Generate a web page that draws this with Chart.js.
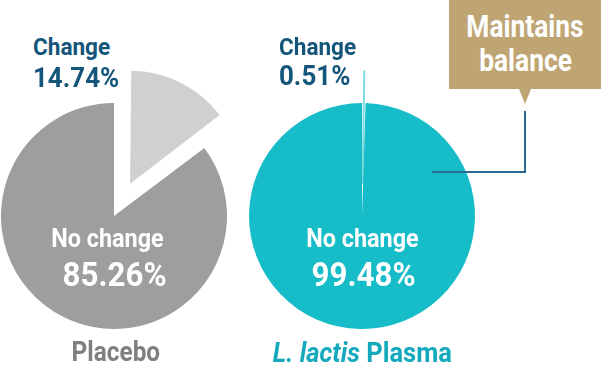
<!DOCTYPE html>
<html>
<head>
<meta charset="utf-8">
<script src="https://cdn.jsdelivr.net/npm/chart.js@4"></script>
<style>
  html, body { margin: 0; padding: 0; background: #fff; }
  #wrap { position: relative; width: 601px; height: 373px; overflow: hidden; font-family: Roboto, "Noto Sans", sans-serif; font-weight: 700; }
  canvas { position: absolute; }
  .lbl { position: absolute; white-space: nowrap; line-height: 1; transform-origin: 0 0; }
  .mid { transform-origin: 50% 0; }
  .callout { position: absolute; left: 449px; top: 0; width: 152px; height: 89px; background: #bfa574; }
  .callout:after { content: ""; position: absolute; left: 70px; top: 89px; border-left: 6px solid transparent; border-right: 6px solid transparent; border-top: 15px solid #bfa574; }
  .lead { position: absolute; background: #2c6b93; }
</style>
</head>
<body>
<div id="wrap">
  <canvas id="pieA" width="300" height="300" style="left:-36px;top:66px"></canvas>
  <canvas id="pieB" width="300" height="300" style="left:212px;top:66px"></canvas>
  <div class="callout"></div>
  <div class="lead" style="left:524px;top:111px;width:2px;height:62px"></div>
  <div class="lead" style="left:432px;top:171px;width:94px;height:2px"></div>
</div>
<script>
// two pies: "change" vs "no change" share per group
const groups = ["Placebo", "L. lactis Plasma"];
const sliceNames = ["Change", "No change"];
const changeValues = [14.74, 0.51];
const noChangeValues = [85.26, 99.48];
const calloutText = ["Maintains", "balance"];

const pieColors = [
  ["#d0d0d0", "#9e9e9e"],
  ["#7dd8e0", "#16bcc8"]
];
const groupColors = ["#7f7f7f", "#15a9bd"];
const navy = "#14557a";
const R = 113;

// chart.js moves an offset arc by offset/4 and also grows its radius;
// pull the radius back so the pulled-out slice keeps the pie's size
const keepRadius = {
  id: "keepRadius",
  beforeDatasetsDraw(chart) {
    chart.getDatasetMeta(0).data.forEach(arc => {
      const off = (arc.options.offset || 0) / 4;
      const fix = 1 - Math.sin(Math.min(Math.PI, arc.circumference || 0));
      arc.outerRadius = R - off * fix;
    });
  }
};

function makePie(id, i, shift, edge) {
  new Chart(document.getElementById(id), {
    type: "pie",
    data: {
      labels: sliceNames,
      datasets: [{
        data: [changeValues[i], noChangeValues[i]],
        backgroundColor: pieColors[i],
        borderColor: pieColors[i],
        borderWidth: [edge, 0],
        offset: [shift * 4, 0],
        hoverOffset: 0
      }]
    },
    options: {
      responsive: false,
      animation: false,
      events: [],
      radius: R,
      plugins: { legend: { display: false }, tooltip: { enabled: false } }
    },
    plugins: [keepRadius]
  });
}

makePie("pieA", 0, 36, 0);
makePie("pieB", 1, 32, 2);

const wrap = document.getElementById("wrap");
function label(text, x, top, size, color, centered, sx) {
  const d = document.createElement("div");
  d.className = "lbl" + (centered ? " mid" : "");
  d.innerHTML = text;
  d.style.top = top + "px";
  d.style.fontSize = size + "px";
  d.style.color = color;
  wrap.appendChild(d);
  d.style.left = (centered ? x - d.offsetWidth / 2 : x) + "px";
  d.style.transform = "scaleX(" + sx + ")";
  return d;
}

const pct = v => v.toFixed(2) + "%";

// change labels above each pie
label(sliceNames[0], 33, 35, 24, navy, false, 0.94);
label(pct(changeValues[0]), 33, 65, 27, navy, false, 0.96);
label(sliceNames[0], 279, 35, 24, navy, false, 0.94);
label(pct(changeValues[1]), 279, 63, 27, navy, false, 0.96);

// no change labels inside each pie
label(sliceNames[1], 107, 225, 26, "#fff", true, 0.9);
label(pct(noChangeValues[0]), 114, 257, 34, "#fff", true, 0.92);
label(sliceNames[1], 362, 225, 26, "#fff", true, 0.9);
label(pct(noChangeValues[1]), 363, 257, 34, "#fff", true, 0.92);

// group names
label(groups[0], 116, 338, 28, groupColors[0], true, 0.87);
const parts = groups[1].split(" ");
label("<i>" + parts.slice(0, 2).join(" ") + "</i> " + parts.slice(2).join(" "), 362, 339, 28, groupColors[1], true, 0.91);

// callout
label(calloutText[0], 525, 11, 31, "#fff", true, 0.85);
label(calloutText[1], 525, 45, 31, "#fff", true, 0.85);
</script>
</body>
</html>
